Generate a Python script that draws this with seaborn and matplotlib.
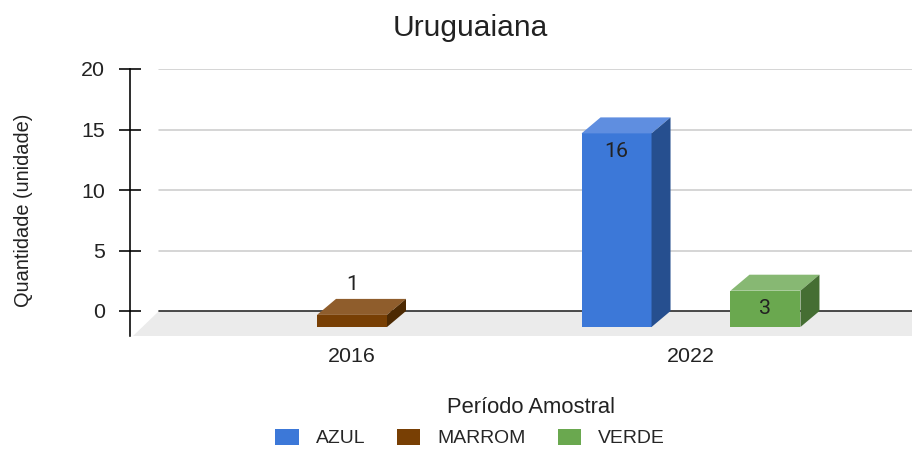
import matplotlib
matplotlib.use("Agg")
import matplotlib.pyplot as plt
import seaborn as sns
import pandas as pd
from matplotlib.patches import Polygon

# ---- data ----
periods = ["2016", "2022"]
colors_cat = ["AZUL", "MARROM", "VERDE"]
azul = [0, 16]
marrom = [1, 0]
verde = [0, 3]

rows = []
for i, p in enumerate(periods):
    rows.append((p, "AZUL", azul[i]))
    rows.append((p, "MARROM", marrom[i]))
    rows.append((p, "VERDE", verde[i]))
df = pd.DataFrame(rows, columns=["Período", "Cor", "Quantidade"])

front = {"AZUL": "#3c78d8", "MARROM": "#783f04", "VERDE": "#6aa84f"}
top_c = {"AZUL": "#5f8ee0", "MARROM": "#8f5d2c", "VERDE": "#87b873"}
side_c = {"AZUL": "#264f8f", "MARROM": "#4c2902", "VERDE": "#456e33"}

sns.set_theme(style="white")
plt.rcParams["font.family"] = ["Liberation Sans", "DejaVu Sans"]

W, H, DPI = 912, 450, 96
fig = plt.figure(figsize=(W / DPI, H / DPI), dpi=DPI)
ax_l, ax_r, ax_t, ax_b = 130, 912, 69, 336
ax = fig.add_axes([ax_l / W, 1 - ax_b / H, (ax_r - ax_l) / W, (ax_b - ax_t) / H])

sns.barplot(data=df, x="Período", y="Quantidade", hue="Cor", order=periods,
            hue_order=colors_cat, palette=front, width=0.659, gap=0.06,
            ax=ax, zorder=3, linewidth=0, saturation=1)

xpx_ppu = 339.0
x0 = -(352 - ax_l) / xpx_ppu
ax.set_xlim(x0, x0 + (ax_r - ax_l) / xpx_ppu)
y_ppu = (311 - ax_t) / 20.0
ax.set_ylim(-(ax_b - 311) / y_ppu, 20)

dxd = 19 / xpx_ppu      # depth offset in x (data)
dyd = 16 / y_ppu        # depth offset in y (data)

# floor
floor = Polygon([(3 / 782, 0), (29 / 782, 25 / 267), (1, 25 / 267), (1, 0)],
                closed=True, transform=ax.transAxes, facecolor="#ebebeb",
                edgecolor="none", zorder=1)
ax.add_patch(floor)

# gridlines (back plane)
for v in [5, 10, 15, 20]:
    ax.axhline(v, xmin=29 / 782, xmax=1, color="#cccccc", lw=1.2, zorder=0.5)
ax.axhline(0, xmin=29 / 782, xmax=1, color="#333333", lw=1.3, zorder=2)

lab_font = ["Roboto", "DejaVu Sans"]

# 3D faces
for cat, cont in zip(colors_cat, ax.containers):
    for patch, val in zip(cont.patches, df[df["Cor"] == cat]["Quantidade"]):
        h = patch.get_height()
        if h <= 0:
            patch.set_visible(False)
            continue
        xl = patch.get_x()
        w = patch.get_width()
        patch.set_y(-dyd)
        patch.set_facecolor(front[cat])
        ft = h - dyd
        top = Polygon([(xl, ft), (xl + w, ft), (xl + w + dxd, h), (xl + dxd, h)],
                      closed=True, facecolor=top_c[cat], edgecolor="none", zorder=3)
        side = Polygon([(xl + w, ft), (xl + w + dxd, h), (xl + w + dxd, 0), (xl + w, -dyd)],
                       closed=True, facecolor=side_c[cat], edgecolor="none", zorder=3)
        ax.add_patch(top)
        ax.add_patch(side)
        cx = xl + w / 2
        off = -18 if h * y_ppu > 30 else 30
        ax.annotate(f"{val:g}", (cx, ft), xytext=(0, off * 0.75),
                    textcoords="offset points", ha="center", va="center",
                    fontsize=16, color="#222222", family=lab_font, zorder=5)

# axes styling
for s in ["top", "right", "bottom"]:
    ax.spines[s].set_visible(False)
ax.spines["left"].set_color("black")
ax.spines["left"].set_linewidth(1.2)
ax.spines["left"].set_zorder(4)
ax.set_yticks([0, 5, 10, 15, 20])
ax.tick_params(axis="y", direction="inout", length=17, width=1.2, color="black",
               labelsize=16, labelcolor="#222222", pad=10, left=True)
ax.tick_params(axis="x", length=0, labelsize=16, labelcolor="#222222", pad=8)
ax.set_facecolor("white")

ax.set_ylabel("Quantidade (unidade)", fontsize=15, color="#222222")
ax.yaxis.set_label_coords((33 - ax_l) / 782, (336 - 210) / 267)
ax.set_xlabel("Período Amostral", fontsize=16.5, color="#222222")
ax.xaxis.label.set_va("baseline")
ax.xaxis.set_label_coords((531 - ax_l) / 782, (336 - 413) / 267)

fig.text(470 / W, 1 - 36 / H, "Uruguaiana", ha="center", va="baseline",
         fontsize=22.5, color="#222222")

sns.move_legend(ax, "center", bbox_to_anchor=(470 / W, 1 - 438 / H),
                bbox_transform=fig.transFigure, ncol=3, frameon=False, title=None,
                fontsize=14.5, handlelength=1.2, handleheight=0.9, handletextpad=0.88,
                columnspacing=1.65, borderpad=0.1)

fig.savefig("out.png", dpi=DPI, facecolor="white")
